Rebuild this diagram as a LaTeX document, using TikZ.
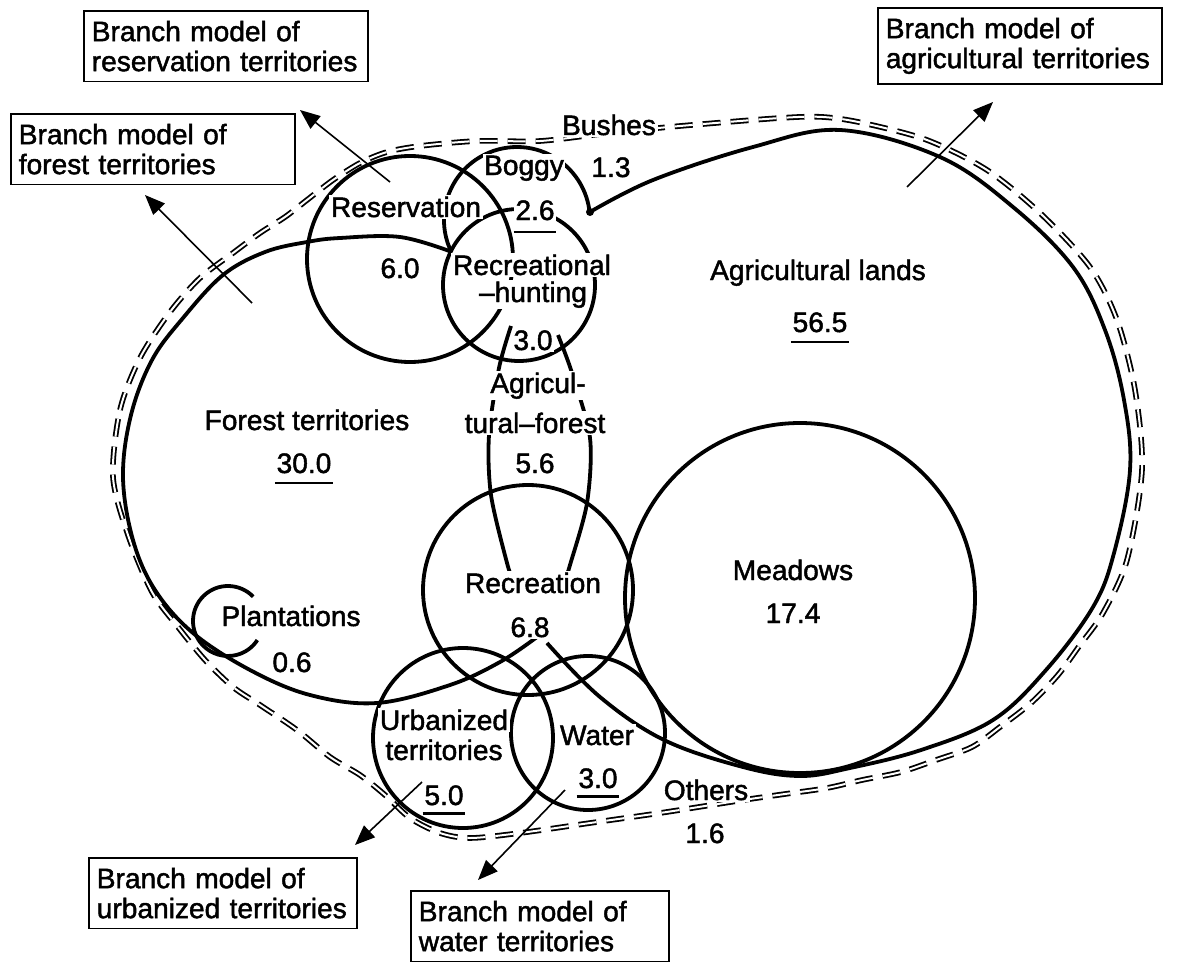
\documentclass[tikz,border=0pt]{standalone}
\usepackage{fontspec}
\setmainfont{Liberation Sans}
\newfontfamily\diagfont{Liberation Sans}[FakeBold=1.6, Ligatures=TeX]
\usetikzlibrary{arrows.meta}

\begin{document}
\begin{tikzpicture}[x=0.25mm, y=-0.25mm,
    every node/.style={font=\diagfont\fontsize{20}{21.3}\selectfont},
    zone/.style={line width=0.95mm},
    envelope/.style={double, line width=0.45mm, double distance=0.5mm, dash pattern=on 4.5mm off 2.5mm},
    lbl/.style={fill=white, inner sep=0.4mm, anchor=base},
    uline/.style={line width=0.7mm},
    branch/.style={draw, line width=0.4mm, align=left, anchor=north west, text width=67mm, inner xsep=2mm, inner ysep=2.5mm},
    pointer/.style={-{Triangle[length=5mm,width=4mm]}, line width=0.4mm}]
    \useasboundingbox (0,0) rectangle (1181,966);
    % Dashed outer boundary
    \draw[envelope] plot[smooth cycle, tension=0.5] coordinates {(113,477) (120,410) (140,358) (170,312) (200,278) (233,253) (260,233) (285,217) (307,200) (333,180) (360,163) (387,152) (420,146) (477,141) (540,141) (609,133) (680,126) (780,118) (823,117) (863,123) (927,140) (987,170) (1040,213) (1090,267) (1117,320) (1135,390) (1142,470) (1127,560) (1103,613) (1080,645) (1058,675) (1031,703) (1000,727) (972,747) (936,760) (901,772) (862,780) (827,788) (785,794) (750,799) (705,806) (660,813) (590,823) (520,833) (470,838) (440,833) (410,818) (385,795) (360,775) (330,757) (297,730) (260,705) (233,687) (205,660) (178,627) (152,592) (128,535)};
    % Forest and agricultural outlines
    \draw[zone] plot[smooth, tension=0.6] coordinates {(452,252) (400,237) (340,238) (307,242) (265,252) (223,275) (183,318) (152,360) (131,415) (123,477) (133,540) (155,590) (193,633) (250,670) (310,695) (377,703) (450,685) (500,662) (537,637)};
    \draw[zone] plot[smooth, tension=0.6] coordinates {(590,212) (653,180) (753,147) (840,130) (940,157) (1013,207) (1073,267) (1105,330) (1124,400) (1130,470) (1114,553) (1093,607) (1046,670) (993,720) (921,750) (850,768) (800,776) (743,767) (664,740) (600,697) (547,643)};
    \fill (590,212) circle[radius=4];
    % Circles
    \draw[zone] (410,259) circle[radius=103];
    \draw[zone] (519,285) circle[radius=76];
    \draw[zone] (517,220) ++(-206:73) arc[start angle=-206, end angle=-6, radius=73];
    \draw[zone] (528,590) circle[radius=105];
    \draw[zone] (800,598) circle[radius=175];
    \draw[zone] (463,738) circle[radius=90];
    \draw[zone] (588,733) circle[radius=77];
    \draw[zone] (228,621) ++(-44:35) arc[start angle=-44, end angle=-327, radius=35];
    % Agricultural-forest lens
    \draw[zone] plot[smooth] coordinates {(511,326) (499,368) (489,435) (491,495) (507,563) (513,580)};
    \draw[zone] plot[smooth] coordinates {(558,335) (572,373) (590,438) (587,503) (570,565) (565,580)};
    % Labels
    \node[lbl] (bushes) at (609,135) {Bushes};
    \node[lbl] (bushesval) at (611,177) {1.3};
    \node[lbl] (boggy) at (524,175) {Boggy};
    \node[lbl] (boggyval) at (535,220) {2.6};
    \node[lbl] (reserv) at (406,217) {Reservation};
    \node[lbl] (reservval) at (400,278) {6.0};
    \node[lbl] (rechunt) at (532,275) {Recreational};
    \node[lbl] (rechunt2) at (533,302) {–hunting};
    \node[lbl] (rechuntval) at (533,350) {3.0};
    \node[lbl] (agrfor) at (538,393) {Agricul-};
    \node[lbl] (agrfor2) at (535,433) {tural–forest};
    \node[lbl] (agrforval) at (535,473) {5.6};
    \node[lbl] (recr) at (533,593) {Recreation};
    \node[lbl] (recrval) at (530,637) {6.8};
    \node[lbl] (forest) at (307,430) {Forest territories};
    \node[lbl] (forestval) at (304,473) {30.0};
    \node[lbl] (plant) at (291,626) {Plantations};
    \node[lbl] (plantval) at (292,672) {0.6};
    \node[lbl] (agri) at (818,280) {Agricultural lands};
    \node[lbl] (agrival) at (820,332) {56.5};
    \node[lbl] (meadow) at (793,580) {Meadows};
    \node[lbl] (meadowval) at (793,623) {17.4};
    \node[lbl] (urban) at (444,730) {Urbanized};
    \node[lbl] (urban2) at (444,760) {territories};
    \node[lbl] (urbanval) at (444,805) {5.0};
    \node[lbl] (water) at (597,745) {Water};
    \node[lbl] (waterval) at (598,788) {3.0};
    \node[lbl] (others) at (706,800) {Others};
    \node[lbl] (othersval) at (705,843) {1.6};
    % Underlined values
    \draw[uline] ([yshift=-3mm]boggyval.base west) -- ([yshift=-3mm]boggyval.base east);
    \draw[uline] ([yshift=-2.5mm]forestval.base west) -- ([yshift=-2.5mm]forestval.base east);
    \draw[uline] ([yshift=-2.5mm]agrival.base west) -- ([yshift=-2.5mm]agrival.base east);
    \draw[uline] ([yshift=-2.2mm]urbanval.base west) -- ([yshift=-2.2mm]urbanval.base east);
    \draw[uline] ([yshift=-2.2mm]waterval.base west) -- ([yshift=-2.2mm]waterval.base east);
    % Branch model boxes
    \node[branch] (resbox) at (83,10) {Branch model of\\reservation territories};
    \node[branch] (forbox) at (10,113) {Branch model of\\forest territories};
    \node[branch] (agrbox) at (877,7) {Branch model of\\agricultural territories};
    \node[branch, text width=63mm] (urbbox) at (88,857) {Branch model of\\urbanized territories};
    \node[branch, text width=60.5mm] (watbox) at (410,890) {Branch model of\\water territories};
    % Arrows to the boxes
    \coordinate (resfrom) at (390,182);
    \coordinate (restip) at (300,110);
    \coordinate (forfrom) at (252,303);
    \coordinate (fortip) at (145,195);
    \coordinate (agrfrom) at (907,187);
    \coordinate (agrtip) at (993,102);
    \coordinate (urbfrom) at (422,782);
    \coordinate (urbtip) at (355,845);
    \coordinate (watfrom) at (565,790);
    \coordinate (wattip) at (478,880);
    \draw[pointer] (resfrom) -- (restip);
    \draw[pointer] (forfrom) -- (fortip);
    \draw[pointer] (agrfrom) -- (agrtip);
    \draw[pointer] (urbfrom) -- (urbtip);
    \draw[pointer] (watfrom) -- (wattip);
\end{tikzpicture}
\end{document}
